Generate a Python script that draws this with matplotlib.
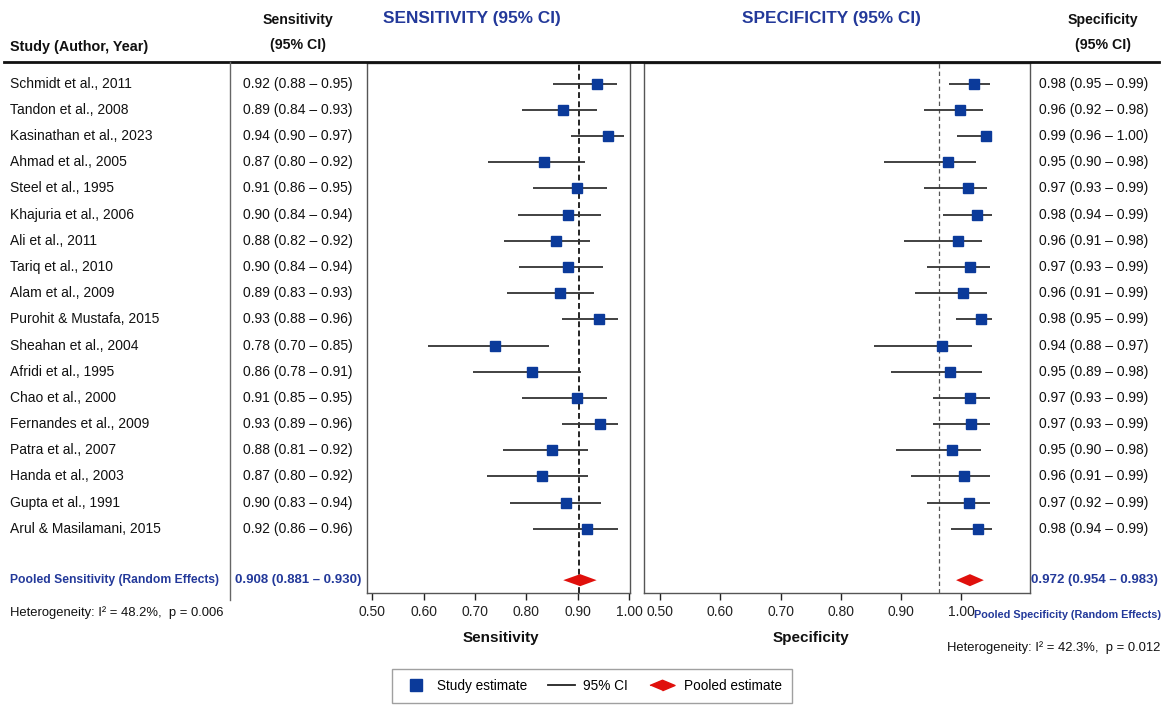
import numpy as np
import matplotlib
matplotlib.use("Agg")
import matplotlib.pyplot as plt
from matplotlib.lines import Line2D
from matplotlib.transforms import blended_transform_factory

plt.rcParams['font.family'] = ['Liberation Sans', 'DejaVu Sans']

# study table
studies = ["Schmidt et al., 2011", "Tandon et al., 2008", "Kasinathan et al., 2023",
           "Ahmad et al., 2005", "Steel et al., 1995", "Khajuria et al., 2006",
           "Ali et al., 2011", "Tariq et al., 2010", "Alam et al., 2009",
           "Purohit & Mustafa, 2015", "Sheahan et al., 2004", "Afridi et al., 1995",
           "Chao et al., 2000", "Fernandes et al., 2009", "Patra et al., 2007",
           "Handa et al., 2003", "Gupta et al., 1991", "Arul & Masilamani, 2015"]

sens_labels = ["0.92 (0.88 – 0.95)", "0.89 (0.84 – 0.93)", "0.94 (0.90 – 0.97)",
               "0.87 (0.80 – 0.92)", "0.91 (0.86 – 0.95)", "0.90 (0.84 – 0.94)",
               "0.88 (0.82 – 0.92)", "0.90 (0.84 – 0.94)", "0.89 (0.83 – 0.93)",
               "0.93 (0.88 – 0.96)", "0.78 (0.70 – 0.85)", "0.86 (0.78 – 0.91)",
               "0.91 (0.85 – 0.95)", "0.93 (0.89 – 0.96)", "0.88 (0.81 – 0.92)",
               "0.87 (0.80 – 0.92)", "0.90 (0.83 – 0.94)", "0.92 (0.86 – 0.96)"]

spec_labels = ["0.98 (0.95 – 0.99)", "0.96 (0.92 – 0.98)", "0.99 (0.96 – 1.00)",
               "0.95 (0.90 – 0.98)", "0.97 (0.93 – 0.99)", "0.98 (0.94 – 0.99)",
               "0.96 (0.91 – 0.98)", "0.97 (0.93 – 0.99)", "0.96 (0.91 – 0.99)",
               "0.98 (0.95 – 0.99)", "0.94 (0.88 – 0.97)", "0.95 (0.89 – 0.98)",
               "0.97 (0.93 – 0.99)", "0.97 (0.93 – 0.99)", "0.95 (0.90 – 0.98)",
               "0.96 (0.91 – 0.99)", "0.97 (0.92 – 0.99)", "0.98 (0.94 – 0.99)"]

# marker positions as drawn on the panels (read against the axis ticks)
sens_est = [0.937, 0.872, 0.959, 0.835, 0.899, 0.882, 0.858, 0.882, 0.865,
            0.942, 0.739, 0.812, 0.899, 0.944, 0.851, 0.831, 0.877, 0.918]
sens_lo = [0.852, 0.792, 0.887, 0.725, 0.814, 0.783, 0.757, 0.786, 0.762,
           0.869, 0.609, 0.696, 0.792, 0.870, 0.754, 0.724, 0.769, 0.813]
sens_hi = [0.976, 0.937, 0.990, 0.915, 0.958, 0.945, 0.924, 0.949, 0.932,
           0.978, 0.845, 0.906, 0.958, 0.978, 0.920, 0.920, 0.945, 0.978]

spec_est = [1.020, 0.998, 1.040, 0.977, 1.010, 1.026, 0.995, 1.014, 1.003,
            1.032, 0.968, 0.981, 1.014, 1.015, 0.985, 1.004, 1.012, 1.028]
spec_lo = [0.980, 0.937, 0.993, 0.871, 0.937, 0.969, 0.905, 0.942, 0.923,
           0.991, 0.855, 0.883, 0.952, 0.952, 0.892, 0.916, 0.943, 0.982]
spec_hi = [1.047, 1.035, 1.051, 1.024, 1.043, 1.050, 1.034, 1.047, 1.042,
           1.051, 1.017, 1.034, 1.047, 1.048, 1.032, 1.047, 1.047, 1.051]

# pooled estimates: reference line and diamond (lo, centre, hi)
sens_ref = 0.903
sens_diamond = [0.872, 0.905, 0.937]
spec_ref = 0.963
spec_diamond = [0.991, 1.014, 1.037]

sens_pooled_label = "0.908 (0.881 – 0.930)"
spec_pooled_label = "0.972 (0.954 – 0.983)"
sens_het = "Heterogeneity: I² = 48.2%,  p = 0.006"
spec_het = "Heterogeneity: I² = 42.3%,  p = 0.012"

ticks = [0.5, 0.6, 0.7, 0.8, 0.9, 1.0]
tick_labels = ["0.50", "0.60", "0.70", "0.80", "0.90", "1.00"]

BLUE_MARK = "#0b3a9a"
BLUE_TEXT = "#23399a"
RED = "#e0100c"
INK = "#111111"

W, H = 1169, 707
fig = plt.figure(figsize=(W / 100, H / 100), dpi=100)
ax1 = fig.add_axes([367 / W, 1 - 593 / H, 263 / W, 530 / H])
ax2 = fig.add_axes([644 / W, 1 - 593 / H, 386 / W, 530 / H])

rows = np.arange(len(studies))
pooled_y = 18.96


def draw_panel(ax, est, lo, hi, ref, diamond, xlim, ref_style):
    ax.hlines(rows, lo, hi, color="#333333", lw=1.3, zorder=2)
    ax.plot(est, rows, "s", color=BLUE_MARK, ms=7.5, zorder=3)
    ax.axvline(ref, **ref_style, zorder=1)
    d = 0.23
    ax.fill([diamond[0], diamond[1], diamond[2], diamond[1]],
            [pooled_y, pooled_y - d, pooled_y, pooled_y + d],
            color=RED, lw=0, zorder=3)
    ax.set_xlim(*xlim)
    ax.set_ylim(19.45, -0.79)
    ax.set_yticks([])
    ax.set_xticks(ticks)
    ax.set_xticklabels(tick_labels)
    ax.tick_params(axis="x", direction="out", length=5, width=1,
                   labelsize=10, pad=4, colors="#222222")
    for s in ax.spines.values():
        s.set_color("#555555")
        s.set_linewidth(1.0)


draw_panel(ax1, sens_est, sens_lo, sens_hi, sens_ref, sens_diamond, (0.490, 1.002),
           dict(color="black", ls=(0, (3.5, 2)), lw=1.2))
draw_panel(ax2, spec_est, spec_lo, spec_hi, spec_ref, spec_diamond, (0.4735, 1.1136),
           dict(color="#555555", ls=(0, (3.5, 2.5)), lw=0.9))

# x-axis labels centred over the tick range
for ax, lab in [(ax1, "Sensitivity"), (ax2, "Specificity")]:
    tr = blended_transform_factory(ax.transData, fig.transFigure)
    ax.text(0.75, 1 - 638 / H, lab, transform=tr, ha="center", va="center",
            fontsize=11, fontweight="bold", color=INK)

# table text
trow = blended_transform_factory(fig.transFigure, ax1.transData)
for i, name in enumerate(studies):
    fig.text(10 / W, rows[i], name, transform=trow, ha="left", va="center",
             fontsize=10, color=INK)
    fig.text(298 / W, rows[i], sens_labels[i], transform=trow, ha="center",
             va="center", fontsize=10, color=INK)
    fig.text(1094 / W, rows[i], spec_labels[i], transform=trow, ha="center",
             va="center", fontsize=10, color=INK)

fig.text(10 / W, pooled_y, "Pooled Sensitivity (Random Effects)", transform=trow,
         ha="left", va="center", fontsize=8.7, fontweight="bold", color=BLUE_TEXT)
fig.text(298 / W, pooled_y, sens_pooled_label, transform=trow, ha="center",
         va="center", fontsize=9.5, fontweight="bold", color=BLUE_TEXT)
fig.text(1094 / W, pooled_y, spec_pooled_label, transform=trow, ha="center",
         va="center", fontsize=9.5, fontweight="bold", color=BLUE_TEXT)

fig.text(10 / W, 1 - 613 / H, sens_het, ha="left", va="center", fontsize=9.4,
         color=INK)
fig.text(1161 / W, 1 - 615 / H, "Pooled Specificity (Random Effects)", ha="right",
         va="center", fontsize=7.8, fontweight="bold", color=BLUE_TEXT)
fig.text(1160 / W, 1 - 648 / H, spec_het, ha="right", va="center", fontsize=9.4,
         color=INK)

# headers
fig.text(10 / W, 1 - 47 / H, "Study (Author, Year)", ha="left", va="center",
         fontsize=10.4, fontweight="bold", color=INK)
fig.text(298 / W, 1 - 20 / H, "Sensitivity", ha="center", va="center",
         fontsize=10.2, fontweight="bold", color=INK)
fig.text(298 / W, 1 - 45 / H, "(95% CI)", ha="center", va="center",
         fontsize=10.2, fontweight="bold", color=INK)
fig.text(1103 / W, 1 - 20 / H, "Specificity", ha="center", va="center",
         fontsize=10.2, fontweight="bold", color=INK)
fig.text(1103 / W, 1 - 45 / H, "(95% CI)", ha="center", va="center",
         fontsize=10.2, fontweight="bold", color=INK)
fig.text(472 / W, 1 - 18 / H, "SENSITIVITY (95% CI)", ha="center", va="center",
         fontsize=12.4, fontweight="bold", color=BLUE_TEXT)
fig.text(831 / W, 1 - 18 / H, "SPECIFICITY (95% CI)", ha="center", va="center",
         fontsize=12.4, fontweight="bold", color=BLUE_TEXT)

# rules
fig.add_artist(Line2D([4 / W, 1159 / W], [1 - 62 / H] * 2, transform=fig.transFigure,
                      color=INK, lw=2))
fig.add_artist(Line2D([230 / W] * 2, [1 - 62 / H, 1 - 600 / H], transform=fig.transFigure,
                      color="#666666", lw=1))

# legend
handles = [Line2D([], [], marker="s", ls="none", color=BLUE_MARK, ms=8.5),
           Line2D([], [], color="#222222", lw=1.3),
           Line2D([], [], marker=[(-1, 0), (0, 0.42), (1, 0), (0, -0.42)], ls="none",
                  color=RED, ms=18)]
fig.legend(handles, ["Study estimate", "95% CI", "Pooled estimate"], loc="center",
           bbox_to_anchor=(592 / W, 1 - 686 / H), ncol=3, frameon=True, fancybox=False,
           edgecolor="#888888", fontsize=9.8, handlelength=2.0, handletextpad=0.6,
           columnspacing=1.5, borderpad=0.7)

fig.savefig("out.png", dpi=100)
